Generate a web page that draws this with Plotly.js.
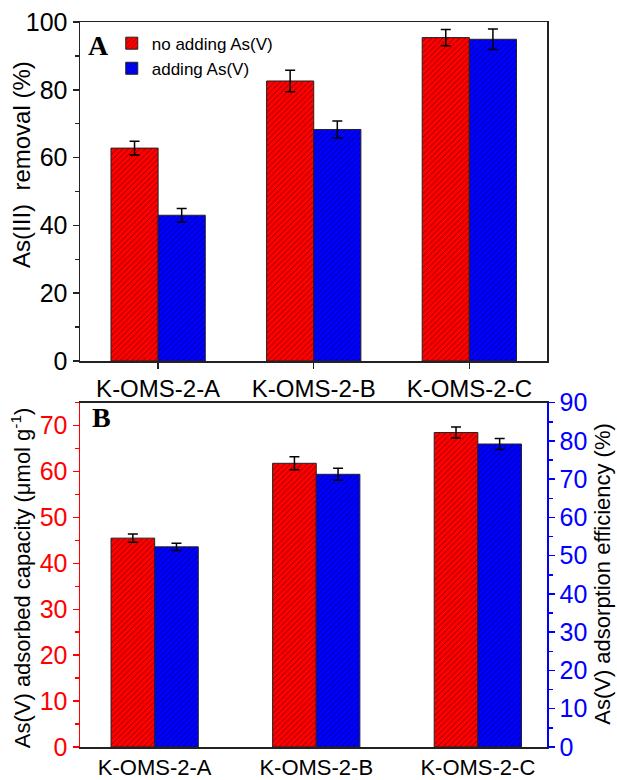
<!DOCTYPE html>
<html>
<head>
<meta charset="utf-8">
<script src="https://cdn.plot.ly/plotly-3.0.1.min.js"></script>
<style>html,body{margin:0;padding:0;background:#fff;}#chart{width:617px;height:780px;}</style>
</head>
<body>
<div id="chart"></div>
<script>
// ---- data ----
const categories = ['K-OMS-2-A', 'K-OMS-2-B', 'K-OMS-2-C'];
const seriesNames = ['no adding As(V)', 'adding As(V)'];
// Panel A: As(III) removal (%)
const removalNoAdd = [62.8, 82.6, 95.4];
const removalNoAddErr = [2.0, 3.2, 2.4];
const removalAdd = [43.0, 68.3, 94.9];
const removalAddErr = [2.0, 2.5, 3.0];
// Panel B: As(V) adsorbed capacity (umol/g)
const capacityNoAdd = [45.5, 61.8, 68.5];
const capacityNoAddErr = [0.9, 1.4, 1.2];
const capacityAdd = [43.6, 59.4, 66.0];
const capacityAddErr = [0.8, 1.3, 1.2];
// tick values
const tickA = [0, 20, 40, 60, 80, 100];
const tickBLeft = [0, 10, 20, 30, 40, 50, 60, 70];
const tickBRight = [0, 10, 20, 30, 40, 50, 60, 70, 80, 90];

const RED = '#ff0000', BLUE = '#0000ff';
const FONT = 'Liberation Sans, Arial, sans-serif';
const pat = (c) => ({shape: '/', fgcolor: '#000000', bgcolor: c, fillmode: 'replace', size: 4, solidity: 0.11});
const errStyle = (arr) => ({type: 'data', array: arr, visible: true, color: '#000', thickness: 1.5, width: 5});

const wA = 0.303, wB = 0.27;

const traces = [
  {type: 'bar', name: seriesNames[0], x: categories, y: removalNoAdd, xaxis: 'x', yaxis: 'y',
   width: wA, offset: -wA, marker: {color: RED, line: {color: '#222', width: 1}, pattern: pat(RED)},
   error_y: errStyle(removalNoAddErr), legendgroup: 'n'},
  {type: 'bar', name: seriesNames[1], x: categories, y: removalAdd, xaxis: 'x', yaxis: 'y',
   width: wA, offset: 0, marker: {color: BLUE, line: {color: '#222', width: 1}, pattern: pat(BLUE)},
   error_y: errStyle(removalAddErr), legendgroup: 'a'},
  {type: 'bar', name: seriesNames[0], x: categories, y: capacityNoAdd, xaxis: 'x2', yaxis: 'y3',
   width: wB, offset: -wB, marker: {color: RED, line: {color: '#222', width: 1}, pattern: pat(RED)},
   error_y: errStyle(capacityNoAddErr), showlegend: false, legendgroup: 'n'},
  {type: 'bar', name: seriesNames[1], x: categories, y: capacityAdd, xaxis: 'x2', yaxis: 'y3',
   width: wB, offset: 0, marker: {color: BLUE, line: {color: '#222', width: 1}, pattern: pat(BLUE)},
   error_y: errStyle(capacityAddErr), showlegend: false, legendgroup: 'a'},
  // carrier for the right-hand efficiency axis (draws nothing)
  {type: 'scatter', mode: 'markers', x: categories, y: [null, null, null], xaxis: 'x2', yaxis: 'y4',
   showlegend: false, hoverinfo: 'skip', marker: {opacity: 0}}
];

const tickFont = (c, s) => ({family: FONT, size: s || 25, color: c});

const layout = {
  width: 617, height: 780,
  margin: {l: 80, r: 70, t: 22, b: 33},
  paper_bgcolor: '#fff', plot_bgcolor: '#fff',
  barmode: 'overlay',
  font: {family: FONT, color: '#000'},
  showlegend: true,
  legend: {x: 0.068, y: 0.995, xanchor: 'left', yanchor: 'top', bgcolor: 'rgba(0,0,0,0)',
           font: {family: FONT, size: 17, color: '#000'}, tracegroupgap: 0, itemclick: false},
  xaxis: {domain: [0, 1], anchor: 'y', type: 'category', range: [-0.502, 2.499],
          showline: true, linecolor: '#222', linewidth: 1.5, mirror: true,
          ticks: 'outside', ticklen: 6, tickwidth: 1.5, tickcolor: '#222',
          tickfont: tickFont('#000', 24), showgrid: false, zeroline: false, fixedrange: true},
  yaxis: {domain: [0.5324, 1], anchor: 'x', range: [0, 100], tickvals: tickA,
          showline: true, linecolor: '#222', linewidth: 1.5, mirror: true,
          ticks: 'outside', ticklen: 6, tickwidth: 1.5, tickcolor: '#222',
          minor: {ticks: 'outside', ticklen: 4, tickwidth: 1.5, tickcolor: '#222', dtick: 10, tick0: 0, showgrid: false},
          tickfont: tickFont('#000'), showgrid: false, zeroline: false, fixedrange: true},
  xaxis2: {domain: [0, 1], anchor: 'y3', type: 'category', range: [-0.462, 2.428],
           showline: true, linecolor: '#222', linewidth: 1.5, mirror: true,
           ticks: '', tickfont: tickFont('#000', 22), showgrid: false, zeroline: false, fixedrange: true},
  yaxis3: {domain: [0, 0.4749], anchor: 'x2', range: [0, 75], tickvals: tickBLeft,
           showline: true, linecolor: RED, linewidth: 1.5,
           ticks: 'outside', ticklen: 6, tickwidth: 1.5, tickcolor: RED,
           minor: {ticks: 'outside', ticklen: 4, tickwidth: 1.5, tickcolor: RED, dtick: 5, tick0: 0, showgrid: false},
           tickfont: tickFont(RED), showgrid: false, zeroline: false, fixedrange: true},
  yaxis4: {overlaying: 'y3', side: 'right', anchor: 'x2', range: [0, 90], tickvals: tickBRight,
           showline: true, linecolor: BLUE, linewidth: 1.5,
           ticks: 'outside', ticklen: 6, tickwidth: 1.5, tickcolor: BLUE,
           minor: {ticks: 'outside', ticklen: 4, tickwidth: 1.5, tickcolor: BLUE, dtick: 5, tick0: 0, showgrid: false},
           tickfont: tickFont(BLUE), showgrid: false, zeroline: false, fixedrange: true},
  annotations: [
    {text: 'As(III)  removal (%)', xref: 'paper', yref: 'paper', x: -0.124, y: 0.803,
     textangle: -90, showarrow: false, xanchor: 'center', yanchor: 'middle',
     font: {family: FONT, size: 24, color: '#000'}},
    {text: 'As(V) adsorbed capacity (μmol g<sup>-1</sup>)', xref: 'paper', yref: 'paper', x: -0.126, y: 0.233,
     textangle: -90, showarrow: false, xanchor: 'center', yanchor: 'middle',
     font: {family: FONT, size: 22, color: '#000'}},
    {text: 'As(V) adsorption efficiency (%)', xref: 'paper', yref: 'paper', x: 1.12, y: 0.239,
     textangle: -90, showarrow: false, xanchor: 'center', yanchor: 'middle',
     font: {family: FONT, size: 22, color: '#000'}},
    {text: '<b>A</b>', xref: 'paper', yref: 'paper', x: 0.0395, y: 0.967, showarrow: false,
     xanchor: 'center', yanchor: 'middle', font: {family: 'Liberation Serif, Times New Roman, serif', size: 28, color: '#000'}},
    {text: '<b>B</b>', xref: 'paper', yref: 'paper', x: 0.045, y: 0.4538, showarrow: false,
     xanchor: 'center', yanchor: 'middle', font: {family: 'Liberation Serif, Times New Roman, serif', size: 28, color: '#000'}}
  ]
};

Plotly.newPlot('chart', traces, layout, {displayModeBar: false, staticPlot: true});
</script>
</body>
</html>
